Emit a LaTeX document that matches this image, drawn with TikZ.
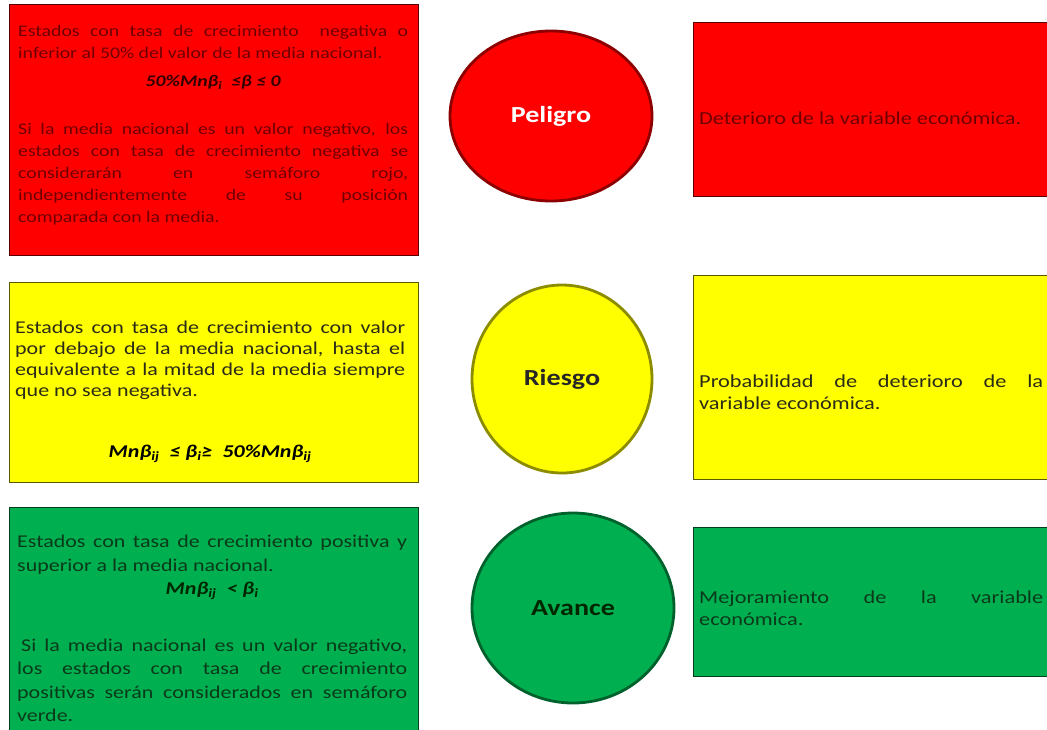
\documentclass[tikz,border=0pt]{standalone}
\usepackage{fontspec}
\setmainfont{Carlito}[FakeStretch=1.22]
\usepackage{xcolor}
\usetikzlibrary{shapes.geometric, positioning}

\definecolor{semred}{HTML}{FF0000}
\definecolor{semyellow}{HTML}{FFFF00}
\definecolor{semgreen}{HTML}{00B050}
\definecolor{inkred}{HTML}{6E0000}
\definecolor{inkyellow}{HTML}{2A2A18}
\definecolor{inkgreen}{HTML}{0A3A1A}

\setlength{\parindent}{0pt}
\hyphenpenalty=10000
\exhyphenpenalty=10000

\newcommand{\formula}[1]{\textbf{\textit{#1}}}

\begin{document}
\begin{tikzpicture}[x=1pt, y=-1pt,
    box/.style={rectangle, draw=#1!35!black, line width=0.9pt, fill=#1, inner sep=0pt, anchor=north west},
    lamp/.style={ellipse, draw=#1!55!black, line width=2.8pt, fill=#1, inner sep=0pt},
    lefttxt/.style={anchor=north west, inner sep=0pt, text width=390pt, align=justify},
    righttxt/.style={anchor=west, inner sep=0pt, text width=344pt, align=justify,
        font=\fontsize{18.3}{22}\selectfont},
    lamptxt/.style={font=\bfseries\fontsize{23}{27}\selectfont}]
    \path[use as bounding box] (0,0) rectangle (1047,729);
    \clip (0,0) rectangle (1047,729);

    % Left boxes
    \node[box=semred, minimum width=409pt, minimum height=251pt] (redbox) at (9,4) {};
    \node[box=semyellow, minimum width=409pt, minimum height=200pt] (yellowbox) at (9,282) {};
    \node[box=semgreen, minimum width=409pt, minimum height=240pt] (greenbox) at (9,507) {};

    \node[lefttxt, text=inkred, font=\fontsize{16.2}{22}\selectfont] (redtxt) at (18,25) {%
        Estados con tasa de crecimiento \ negativa o\linebreak
        inferior al 50\% del valor de la media nacional.\par
        \vspace{6pt}
        {\centering\color{black!80!red}\formula{50\%Mnβ\textsubscript{i}\ \ ≤β ≤ 0}\par}
        \vspace{26pt}
        Si la media nacional es un valor negativo, los\linebreak
        estados con tasa de crecimiento negativa se\linebreak
        considerarán en semáforo rojo,\linebreak
        independientemente de su posición\linebreak
        comparada con la media.};

    \node[lefttxt, text=inkyellow, font=\fontsize{18}{21}\selectfont] (yellowtxt) at (15,321) {%
        Estados con tasa de crecimiento con valor\linebreak
        por debajo de la media nacional, hasta el\linebreak
        equivalente a la mitad de la media siempre\linebreak
        que no sea negativa.\par
        \vspace{40pt}
        {\centering\color{black}\formula{Mnβ\textsubscript{ij}\ \ ≤ β\textsubscript{i}≥\ \ 50\%Mnβ\textsubscript{ij}}\par}};

    \node[lefttxt, text=inkgreen, font=\fontsize{18}{23.5}\selectfont] (greentxt) at (17,535) {%
        Estados con tasa de crecimiento positiva y\linebreak
        superior a la media nacional.\par
        {\centering\color{black!85!green}\formula{Mnβ\textsubscript{ij}\ \ < β\textsubscript{i}}\par}
        \vspace{33pt}
        \hspace{4pt}Si la media nacional es un valor negativo,\linebreak
        los estados con tasa de crecimiento\linebreak
        positivas serán considerados en semáforo\linebreak
        verde.};

    % Lamps
    \node[lamp=semred, minimum width=202pt, minimum height=170pt] (peligro) at (551,116) {};
    \node[lamp=semyellow, minimum width=180pt, minimum height=188pt] (riesgo) at (562,379) {};
    \node[lamp=semgreen, minimum width=202pt, minimum height=190pt] (avance) at (573,608) {};
    \node[lamptxt, text=white] at (peligro) {Peligro};
    \node[lamptxt, text=black!85] at (riesgo) {Riesgo};
    \node[lamptxt, text=black!85!green] at (avance) {Avance};

    % Right boxes
    \node[box=semred, minimum width=380pt, minimum height=174pt] (redright) at (693,22) {};
    \node[box=semyellow, minimum width=380pt, minimum height=204pt] (yellowright) at (693,275) {};
    \node[box=semgreen, minimum width=380pt, minimum height=149pt] (greenright) at (693,527) {};

    \node[righttxt, text=inkred] (rednote) at (699,118) {Deterioro de la variable económica.};
    \node[righttxt, text=inkyellow] (yellownote) at (699,392) {Probabilidad de deterioro de la\linebreak variable económica.};
    \node[righttxt, text=inkgreen] (greennote) at (699,608) {Mejoramiento de la variable\linebreak económica.};
\end{tikzpicture}
\end{document}
